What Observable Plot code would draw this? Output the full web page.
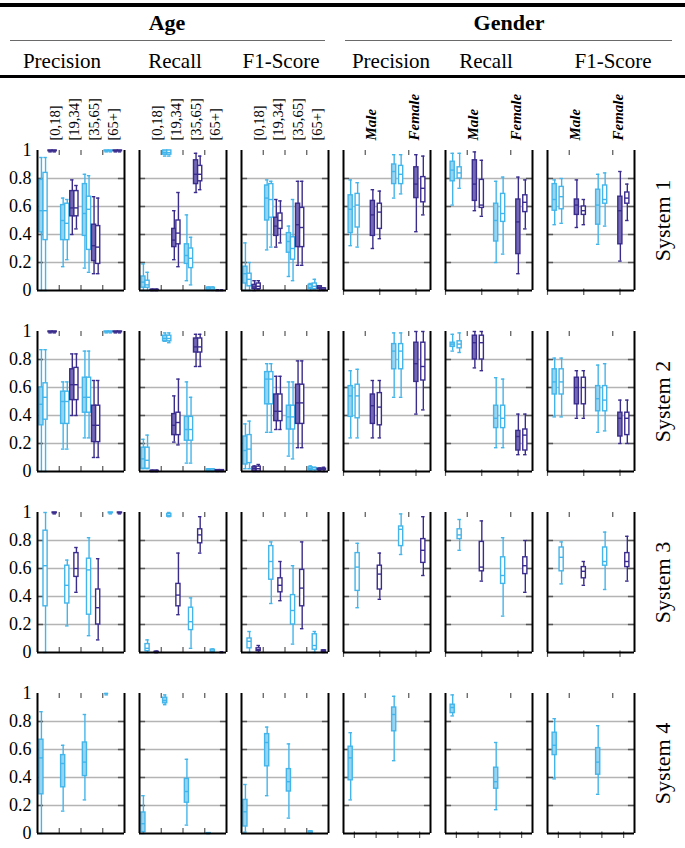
<!DOCTYPE html>
<html><head><meta charset="utf-8">
<script src="https://cdn.jsdelivr.net/npm/d3@7"></script>
<script src="https://cdn.jsdelivr.net/npm/@observablehq/plot@0.6"></script>
<style>
body{margin:0;background:#fff;}
#wrap{position:relative;width:685px;height:848px;font-family:'Liberation Serif','Times New Roman',serif;color:#000;overflow:hidden;}
.rule{position:absolute;}
.hd{position:absolute;transform:translate(-50%,-50%);white-space:nowrap;line-height:1;}
#chart{position:absolute;left:0;top:80px;}
</style></head><body>
<div id="wrap"><div id="chart"></div></div>
<script>
// ---------- labels ----------
const systems = ["System 1", "System 2", "System 3", "System 4"];
const attributes = ["Age", "Gender"];
const metrics = ["Precision", "Recall", "F1-Score"];
const ageGroups = ["[0,18]", "[19,34]", "[35,65]", "[65+]"];
const genders = ["Male", "Female"];
const seriesKeys = ["LF", "LH", "DF", "DH"]; // light filled, light hollow, dark filled, dark hollow
const yTicks = [0, 0.2, 0.4, 0.6, 0.8, 1];

// ---------- data: [metric, group, series, min, q1, median, q3, max] ----------
const sys1Age = [
  ["Precision","[0,18]","LF",0,.415,.57,.79,.95],
  ["Precision","[0,18]","LH",0,.36,.57,.84,.95],
  ["Precision","[0,18]","DF",.99,.995,1,1,1],
  ["Precision","[0,18]","DH",.99,.995,1,1,1],
  ["Precision","[19,34]","LF",.17,.36,.50,.61,.66],
  ["Precision","[19,34]","LH",.22,.36,.48,.62,.65],
  ["Precision","[19,34]","DF",.40,.53,.59,.71,.79],
  ["Precision","[19,34]","DH",.44,.53,.59,.71,.75],
  ["Precision","[35,65]","LF",.16,.39,.55,.76,.83],
  ["Precision","[35,65]","LH",.13,.29,.58,.67,.82],
  ["Precision","[35,65]","DF",.12,.21,.32,.47,.67],
  ["Precision","[35,65]","DH",.12,.19,.31,.46,.66],
  ["Precision","[65+]","LF",.99,.995,1,1,1],
  ["Precision","[65+]","LH",.99,.995,1,1,1],
  ["Precision","[65+]","DF",.99,.995,1,1,1],
  ["Precision","[65+]","DH",.99,.995,1,1,1],
  ["Recall","[0,18]","LF",0,.02,.06,.10,.19],
  ["Recall","[0,18]","LH",0,.02,.04,.07,.13],
  ["Recall","[0,18]","DF",0,0,0,.005,.01],
  ["Recall","[0,18]","DH",0,0,0,.005,.01],
  ["Recall","[19,34]","LF",.96,.97,.985,1,1],
  ["Recall","[19,34]","LH",.96,.97,.985,1,1],
  ["Recall","[19,34]","DF",.22,.31,.36,.44,.57],
  ["Recall","[19,34]","DH",.17,.33,.41,.50,.70],
  ["Recall","[35,65]","LF",.07,.19,.25,.33,.54],
  ["Recall","[35,65]","LH",.04,.16,.23,.30,.38],
  ["Recall","[35,65]","DF",.70,.76,.83,.93,.98],
  ["Recall","[35,65]","DH",.72,.78,.83,.89,.96],
  ["Recall","[65+]","LF",0,.005,.01,.02,.025],
  ["Recall","[65+]","LH",0,.005,.01,.02,.025],
  ["Recall","[65+]","DF",0,0,0,0,.005],
  ["Recall","[65+]","DH",0,0,0,0,.005],
  ["F1-Score","[0,18]","LF",0,.05,.12,.17,.34],
  ["F1-Score","[0,18]","LH",0,.03,.08,.12,.20],
  ["F1-Score","[0,18]","DF",0,.01,.025,.04,.07],
  ["F1-Score","[0,18]","DH",.01,.01,.03,.05,.07],
  ["F1-Score","[19,34]","LF",.29,.50,.66,.75,.79],
  ["F1-Score","[19,34]","LH",.31,.52,.65,.76,.78],
  ["F1-Score","[19,34]","DF",.31,.39,.46,.52,.65],
  ["F1-Score","[19,34]","DH",.34,.44,.50,.55,.64],
  ["F1-Score","[35,65]","LF",.10,.27,.35,.41,.46],
  ["F1-Score","[35,65]","LH",.07,.22,.30,.38,.65],
  ["F1-Score","[35,65]","DF",.18,.31,.47,.62,.78],
  ["F1-Score","[35,65]","DH",.18,.31,.45,.59,.78],
  ["F1-Score","[65+]","LF",0,.01,.02,.04,.05],
  ["F1-Score","[65+]","LH",.01,.01,.03,.05,.08],
  ["F1-Score","[65+]","DF",0,.01,.02,.03,.03],
  ["F1-Score","[65+]","DH",0,.003,.01,.015,.02]
];
const sys1Gender = [
  ["Precision","Male","LF",.32,.41,.58,.68,.79],
  ["Precision","Male","LH",.31,.45,.61,.69,.77],
  ["Precision","Male","DF",.30,.39,.54,.64,.72],
  ["Precision","Male","DH",.37,.44,.56,.62,.71],
  ["Precision","Female","LF",.66,.76,.85,.90,.97],
  ["Precision","Female","LH",.69,.76,.83,.89,.97],
  ["Precision","Female","DF",.42,.66,.76,.88,.97],
  ["Precision","Female","DH",.54,.63,.73,.81,.96],
  ["Recall","Male","LF",.61,.78,.86,.92,.98],
  ["Recall","Male","LH",.73,.80,.84,.88,.98],
  ["Recall","Male","DF",.57,.64,.76,.93,.99],
  ["Recall","Male","DH",.53,.59,.61,.79,.93],
  ["Recall","Female","LF",.20,.35,.50,.62,.78],
  ["Recall","Female","LH",.26,.49,.55,.69,.81],
  ["Recall","Female","DF",.12,.26,.49,.65,.81],
  ["Recall","Female","DH",.44,.56,.63,.68,.79],
  ["F1-Score","Male","LF",.47,.57,.65,.76,.79],
  ["F1-Score","Male","LH",.48,.58,.67,.74,.80],
  ["F1-Score","Male","DF",.45,.54,.61,.65,.79],
  ["F1-Score","Male","DH",.47,.54,.57,.60,.65],
  ["F1-Score","Female","LF",.33,.47,.61,.72,.83],
  ["F1-Score","Female","LH",.46,.62,.65,.75,.84],
  ["F1-Score","Female","DF",.21,.33,.57,.67,.85],
  ["F1-Score","Female","DH",.50,.62,.66,.70,.76]
];
const sys2Age = [
  ["Precision","[0,18]","LF",0,.33,.48,.60,.87],
  ["Precision","[0,18]","LH",0,.37,.53,.63,.87],
  ["Precision","[0,18]","DF",.99,.995,1,1,1],
  ["Precision","[0,18]","DH",.99,.995,1,1,1],
  ["Precision","[19,34]","LF",.16,.34,.50,.57,.64],
  ["Precision","[19,34]","LH",.16,.34,.50,.57,.64],
  ["Precision","[19,34]","DF",.40,.51,.62,.73,.84],
  ["Precision","[19,34]","DH",.40,.51,.62,.74,.84],
  ["Precision","[35,65]","LF",.24,.42,.53,.67,.86],
  ["Precision","[35,65]","LH",.24,.42,.53,.67,.86],
  ["Precision","[35,65]","DF",.10,.21,.33,.47,.65],
  ["Precision","[35,65]","DH",.10,.21,.33,.47,.65],
  ["Precision","[65+]","LF",.99,.995,1,1,1],
  ["Precision","[65+]","LH",.99,.995,1,1,1],
  ["Precision","[65+]","DF",.99,.995,1,1,1],
  ["Precision","[65+]","DH",.99,.995,1,1,1],
  ["Recall","[0,18]","LF",.02,.02,.09,.17,.23],
  ["Recall","[0,18]","LH",.02,.02,.08,.17,.26],
  ["Recall","[0,18]","DF",0,0,0,.005,.01],
  ["Recall","[0,18]","DH",0,0,0,.005,.01],
  ["Recall","[19,34]","LF",.93,.93,.95,.97,.99],
  ["Recall","[19,34]","LH",.92,.93,.95,.97,.99],
  ["Recall","[19,34]","DF",.21,.26,.33,.41,.54],
  ["Recall","[19,34]","DH",.19,.26,.35,.42,.66],
  ["Recall","[35,65]","LF",.06,.22,.30,.39,.64],
  ["Recall","[35,65]","LH",.06,.22,.30,.39,.53],
  ["Recall","[35,65]","DF",.75,.85,.89,.95,.98],
  ["Recall","[35,65]","DH",.75,.85,.89,.95,.98],
  ["Recall","[65+]","LF",0,.003,.01,.015,.02],
  ["Recall","[65+]","LH",0,.003,.01,.015,.02],
  ["Recall","[65+]","DF",0,0,.005,.01,.01],
  ["Recall","[65+]","DH",0,0,.005,.01,.01],
  ["F1-Score","[0,18]","LF",.02,.05,.15,.25,.34],
  ["F1-Score","[0,18]","LH",.02,.06,.16,.26,.36],
  ["F1-Score","[0,18]","DF",0,0,.02,.03,.04],
  ["F1-Score","[0,18]","DH",0,0,.02,.035,.05],
  ["F1-Score","[19,34]","LF",.28,.48,.66,.71,.77],
  ["F1-Score","[19,34]","LH",.28,.48,.66,.71,.77],
  ["F1-Score","[19,34]","DF",.30,.36,.43,.55,.68],
  ["F1-Score","[19,34]","DH",.30,.36,.43,.55,.68],
  ["F1-Score","[35,65]","LF",.11,.30,.39,.47,.64],
  ["F1-Score","[35,65]","LH",.09,.30,.39,.47,.64],
  ["F1-Score","[35,65]","DF",.17,.34,.49,.62,.79],
  ["F1-Score","[35,65]","DH",.17,.34,.49,.62,.79],
  ["F1-Score","[65+]","LF",.005,.01,.02,.03,.04],
  ["F1-Score","[65+]","LH",0,.01,.015,.025,.03],
  ["F1-Score","[65+]","DF",.005,.01,.015,.02,.025],
  ["F1-Score","[65+]","DH",0,.01,.015,.02,.03]
];
const sys2Gender = [
  ["Precision","Male","LF",.24,.39,.54,.61,.72],
  ["Precision","Male","LH",.24,.38,.54,.62,.73],
  ["Precision","Male","DF",.24,.34,.47,.55,.65],
  ["Precision","Male","DH",.24,.33,.46,.56,.65],
  ["Precision","Female","LF",.53,.73,.86,.91,.99],
  ["Precision","Female","LH",.53,.73,.86,.91,.99],
  ["Precision","Female","DF",.41,.64,.77,.92,1],
  ["Precision","Female","DH",.44,.65,.75,.92,1],
  ["Recall","Male","LF",.86,.89,.91,.92,.98],
  ["Recall","Male","LH",.85,.88,.91,.93,.99],
  ["Recall","Male","DF",.74,.80,.92,.97,1],
  ["Recall","Male","DH",.72,.80,.92,.97,1],
  ["Recall","Female","LF",.17,.31,.38,.47,.67],
  ["Recall","Female","LH",.17,.31,.38,.47,.66],
  ["Recall","Female","DF",.12,.15,.25,.29,.41],
  ["Recall","Female","DH",.12,.15,.26,.30,.41],
  ["F1-Score","Male","LF",.39,.55,.64,.73,.81],
  ["F1-Score","Male","LH",.39,.55,.64,.73,.81],
  ["F1-Score","Male","DF",.38,.48,.60,.67,.72],
  ["F1-Score","Male","DH",.38,.48,.60,.67,.72],
  ["F1-Score","Female","LF",.28,.43,.52,.61,.76],
  ["F1-Score","Female","LH",.29,.43,.51,.61,.77],
  ["F1-Score","Female","DF",.20,.25,.38,.42,.51],
  ["F1-Score","Female","DH",.20,.26,.38,.42,.51]
];
const sys3Age = [
  ["Precision","[0,18]","LH",0,.33,.62,.87,1],
  ["Precision","[0,18]","DH",.99,.995,1,1,1],
  ["Precision","[19,34]","LH",.19,.35,.48,.62,.66],
  ["Precision","[19,34]","DH",.43,.54,.60,.71,.75],
  ["Precision","[35,65]","LH",.12,.27,.59,.67,.82],
  ["Precision","[35,65]","DH",.09,.20,.32,.45,.67],
  ["Precision","[65+]","LH",.99,.995,1,1,1],
  ["Precision","[65+]","DH",.99,.995,1,1,1],
  ["Recall","[0,18]","LH",0,.01,.03,.06,.09],
  ["Recall","[0,18]","DH",0,0,0,.005,.01],
  ["Recall","[19,34]","LH",.97,.97,.98,.99,1],
  ["Recall","[19,34]","DH",.27,.33,.41,.49,.71],
  ["Recall","[35,65]","LH",.03,.16,.22,.32,.39],
  ["Recall","[35,65]","DH",.71,.78,.84,.88,.97],
  ["Recall","[65+]","LH",0,.005,.01,.02,.025],
  ["Recall","[65+]","DH",0,0,0,0,.005],
  ["F1-Score","[0,18]","LH",0,.03,.08,.10,.15],
  ["F1-Score","[0,18]","DH",0,.01,.02,.03,.05],
  ["F1-Score","[19,34]","LH",.35,.52,.65,.76,.79],
  ["F1-Score","[19,34]","DH",.37,.43,.48,.53,.65],
  ["F1-Score","[35,65]","LH",.06,.20,.30,.41,.62],
  ["F1-Score","[35,65]","DH",.17,.33,.46,.59,.79],
  ["F1-Score","[65+]","LH",0,.02,.05,.13,.15],
  ["F1-Score","[65+]","DH",0,.005,.01,.015,.02]
];
const sys3Gender = [
  ["Precision","Male","LH",.32,.44,.61,.71,.78],
  ["Precision","Male","DH",.38,.45,.56,.62,.71],
  ["Precision","Female","LH",.70,.76,.88,.90,.99],
  ["Precision","Female","DH",.55,.64,.73,.81,.97],
  ["Recall","Male","LH",.73,.81,.84,.88,.95],
  ["Recall","Male","DH",.51,.58,.61,.79,.94],
  ["Recall","Female","LH",.26,.49,.55,.68,.82],
  ["Recall","Female","DH",.43,.56,.62,.68,.80],
  ["F1-Score","Male","LH",.49,.58,.68,.75,.79],
  ["F1-Score","Male","DH",.48,.53,.58,.61,.65],
  ["F1-Score","Female","LH",.45,.62,.65,.75,.86],
  ["F1-Score","Female","DH",.51,.61,.65,.71,.83]
];
const sys4Age = [
  ["Precision","[0,18]","LF",0,.28,.54,.67,.87],
  ["Precision","[19,34]","LF",.16,.33,.50,.56,.63],
  ["Precision","[35,65]","LF",.24,.41,.51,.65,.85],
  ["Precision","[65+]","LF",.99,1,1,1,1],
  ["Recall","[0,18]","LF",0,.01,.07,.15,.27],
  ["Recall","[19,34]","LF",.92,.93,.95,.97,.99],
  ["Recall","[35,65]","LF",.06,.22,.30,.39,.53],
  ["Recall","[65+]","LF",0,0,0,.003,.005],
  ["F1-Score","[0,18]","LF",.01,.05,.155,.24,.35],
  ["F1-Score","[19,34]","LF",.27,.48,.65,.71,.76],
  ["F1-Score","[35,65]","LF",.11,.30,.37,.46,.64],
  ["F1-Score","[65+]","LF",0,.003,.01,.015,.02]
];
const sys4Gender = [
  ["Precision","Male","LF",.24,.38,.54,.62,.72],
  ["Precision","Female","LF",.52,.73,.85,.90,.98],
  ["Recall","Male","LF",.84,.86,.90,.92,.99],
  ["Recall","Female","LF",.17,.32,.37,.47,.65],
  ["F1-Score","Male","LF",.39,.56,.63,.72,.82],
  ["F1-Score","Female","LF",.28,.42,.51,.61,.77]
];

// ---------- header ----------
const wrap = document.getElementById("wrap");
function addRule(left, top, width, height, color) {
  const d = document.createElement("div");
  d.className = "rule";
  Object.assign(d.style, {left: left + "px", top: top + "px", width: width + "px", height: height + "px", background: color});
  wrap.appendChild(d);
}
function addText(txt, cx, cy, size, weight) {
  const d = document.createElement("div");
  d.className = "hd";
  d.textContent = txt;
  Object.assign(d.style, {left: cx + "px", top: cy + "px", fontSize: size + "px", fontWeight: weight});
  wrap.appendChild(d);
}
addRule(0, 3, 685, 3.5, "#000");
addRule(10, 39.5, 315, 1.5, "#6a6a6a");
addRule(345, 39.5, 327, 1.5, "#6a6a6a");
addRule(0, 75, 685, 3, "#000");
const attrCenters = [167, 509];
attributes.forEach((a, i) => addText(a, attrCenters[i], 23, 22, "bold"));
const metricCenters = [62, 175, 281, 391, 486, 613];
attributes.forEach((a, ai) => metrics.forEach((m, mi) => addText(m, metricCenters[ai * 3 + mi], 61, 21, "normal")));

// ---------- chart ----------
const cols = attributes.flatMap(a => metrics.map(m => a + " " + m));
const xDomain = [0, 4];
const slotAge = [0.18, 0.37, 0.6, 0.79];
const slotGender = [0.33, 0.65, 1.35, 1.67];
function build(sys, attr, rows) {
  return rows.map(([metric, group, ser, min, q1, med, q3, max]) => {
    const si = seriesKeys.indexOf(ser);
    const x = attr === "Age" ? ageGroups.indexOf(group) + slotAge[si] : 2 * genders.indexOf(group) + slotGender[si];
    return {sys, col: attr + " " + metric, ser, x, min, q1, med, q3, max};
  });
}
const boxes = [
  ...build(systems[0], "Age", sys1Age), ...build(systems[0], "Gender", sys1Gender),
  ...build(systems[1], "Age", sys2Age), ...build(systems[1], "Gender", sys2Gender),
  ...build(systems[2], "Age", sys3Age), ...build(systems[2], "Gender", sys3Gender),
  ...build(systems[3], "Age", sys4Age), ...build(systems[3], "Gender", sys4Gender)
];
const LIGHT = "#43b5ea", DARK = "#3a2c8c";
const seriesStyle = {
  LF: {stroke: LIGHT, fill: "#97d4f1"},
  LH: {stroke: LIGHT, fill: "#ffffff"},
  DF: {stroke: DARK, fill: "#7368b5"},
  DH: {stroke: DARK, fill: "#ffffff"}
};
const boxHW = 0.095, capHW = 0.08, sw = 1.4;
const boxMarks = seriesKeys.flatMap(s => {
  const d = boxes.filter(b => b.ser === s);
  const c = seriesStyle[s];
  const base = {fx: "col", fy: "sys", stroke: c.stroke, strokeWidth: sw};
  return [
    Plot.ruleX(d, {...base, x: "x", y1: "min", y2: "max"}),
    Plot.ruleY(d, {...base, y: "min", x1: b => b.x - capHW, x2: b => b.x + capHW}),
    Plot.ruleY(d, {...base, y: "max", x1: b => b.x - capHW, x2: b => b.x + capHW}),
    Plot.rect(d, {...base, x1: b => b.x - boxHW, x2: b => b.x + boxHW, y1: "q1", y2: "q3", fill: c.fill}),
    Plot.ruleY(d, {...base, y: "med", x1: b => b.x - boxHW, x2: b => b.x + boxHW})
  ];
});

// panel tick marks
const tickLen = 0.035;
const panelTicks = [];
systems.forEach((sys, si) => cols.forEach(col => {
  const isAge = col.startsWith("Age");
  const top = isAge ? d3.range(1, ageGroups.length) : genders.map((g, i) => 2 * i + 1);
  const bottom = isAge ? d3.range(1, ageGroups.length) : (si === systems.length - 1 ? d3.range(0.5, 4, 1) : d3.range(0, 4, 5 / 3));
  top.forEach(x => panelTicks.push({sys, col, x, y1: 1, y2: 1 - tickLen}));
  bottom.forEach(x => panelTicks.push({sys, col, x, y1: isAge ? 0 : -tickLen, y2: isAge ? tickLen : tickLen * 0.3}));
}));

// category labels (top row only)
const catLabels = [];
cols.forEach(col => {
  if (col.startsWith("Age")) ageGroups.forEach((g, i) => catLabels.push({sys: systems[0], col, x: 0.55 + 0.9 * i, label: g}));
});
const genderLabels = [];
cols.forEach(col => {
  if (col.startsWith("Gender")) genders.forEach((g, i) => genderLabels.push({sys: systems[0], col, x: 2 * i + 1, label: g}));
});
const gridVals = yTicks.filter(v => v > 0 && v < 1);

const chart = Plot.plot({
  width: 685,
  height: 768,
  marginTop: 68,
  marginBottom: 13,
  marginLeft: 36,
  marginRight: 50,
  style: {fontFamily: "'Liberation Serif','Times New Roman',serif", fontSize: "17px", background: "#fff", color: "#000"},
  x: {domain: xDomain, axis: null},
  y: {domain: [0, 1]},
  fx: {domain: cols, axis: null, paddingInner: 0.145, paddingOuter: 0},
  fy: {domain: systems, axis: null, paddingInner: 0.225, paddingOuter: 0},
  marks: [
    Plot.ruleY(gridVals, {stroke: "#b4b4b4", strokeWidth: 1.5}),
    Plot.ruleY(gridVals, {x1: xDomain[0], x2: xDomain[0] + 0.28, stroke: "#555", strokeWidth: 1.5}),
    Plot.ruleY(gridVals, {x1: xDomain[1] - 0.28, x2: xDomain[1], stroke: "#555", strokeWidth: 1.5}),
    Plot.ruleX(panelTicks, {fx: "col", fy: "sys", x: "x", y1: "y1", y2: "y2", stroke: "#555", strokeWidth: 1.2}),
    ...boxMarks,
    Plot.ruleX(xDomain, {stroke: "#000", strokeWidth: 2}),
    Plot.ruleY([0], {stroke: "#000", strokeWidth: 2}),
    Plot.axisY({ticks: yTicks, tickFormat: d => String(d), tickSize: 0, tickPadding: 6, fontSize: 18}),
    Plot.text(catLabels, {fx: "col", fy: "sys", x: "x", text: "label", frameAnchor: "top", dy: -10, rotate: -90, textAnchor: "start", fontSize: 14.5}),
    Plot.text(genderLabels, {fx: "col", fy: "sys", x: "x", text: "label", frameAnchor: "top", dy: -10, rotate: -90, textAnchor: "start", fontSize: 15, fontStyle: "italic", fontWeight: "bold"}),
    Plot.text(systems, {fx: () => cols[cols.length - 1], fy: d => d, text: d => d, frameAnchor: "right", dx: 28, rotate: -90, textAnchor: "middle", fontSize: 22})
  ]
});
document.getElementById("chart").appendChild(chart);
</script>
</body></html>
